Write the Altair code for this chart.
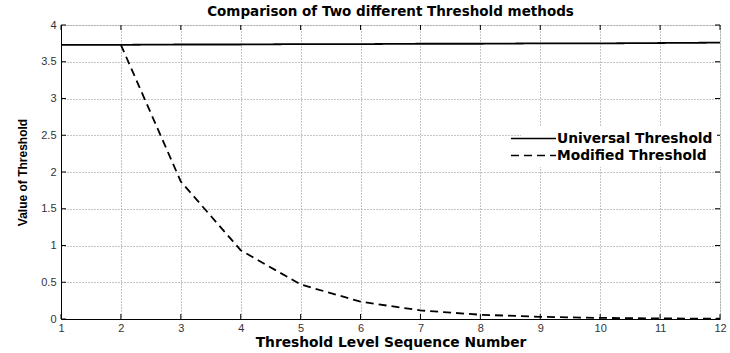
import altair as alt
import pandas as pd

levels = list(range(1, 13))
universal = [3.73, 3.73, 3.735, 3.735, 3.74, 3.74, 3.745, 3.745, 3.75, 3.75, 3.755, 3.76]
mod_levels = list(range(2, 13))
modified = [3.73, 1.87, 0.935, 0.47, 0.235, 0.117, 0.058, 0.03, 0.015, 0.008, 0.004]
series_names = ["Universal Threshold", "Modified Threshold"]
x_ticks = list(range(1, 13))
y_ticks = [0, 0.5, 1, 1.5, 2, 2.5, 3, 3.5, 4]

rows = [{"level": l, "value": v, "series": series_names[0]} for l, v in zip(levels, universal)]
rows += [{"level": l, "value": v, "series": series_names[1]} for l, v in zip(mod_levels, modified)]
df = pd.DataFrame(rows)

W, H = 659, 294
FONT = "Liberation Sans"
BFONT = "DejaVu Sans"

xscale = alt.Scale(domain=[1, 12], nice=False, zero=False)
yscale = alt.Scale(domain=[0, 4], nice=False)

xaxis = alt.Axis(values=x_ticks, title="Threshold Level Sequence Number", grid=True, format="d",
                 gridDash=[1, 2], gridColor="#8a8a8a", ticks=False, labelPadding=3,
                 labelFontSize=11, labelColor="#333", labelFont=FONT, labelOverlap=False,
                 titleFont=BFONT, titleFontSize=13.8, titleFontWeight="bold", titleColor="black",
                 titlePadding=2, domainColor="black", labelFlush=False)
yaxis = alt.Axis(values=y_ticks, title="Value of Threshold", grid=True, format="~g",
                 gridDash=[1, 2], gridColor="#8a8a8a", ticks=False, labelPadding=5,
                 labelFontSize=11, labelColor="#333", labelFont=FONT, labelOverlap=False,
                 titleFont=FONT, titleFontSize=12, titleFontWeight="bold", titleColor="black",
                 titlePadding=11, domainColor="black", labelFlush=False)

lines = alt.Chart(df).mark_line(color="black", strokeWidth=1.8).encode(
    x=alt.X("level:Q", scale=xscale, axis=xaxis),
    y=alt.Y("value:Q", scale=yscale, axis=yaxis),
    strokeDash=alt.StrokeDash("series:N",
        scale=alt.Scale(domain=series_names, range=[[1, 0], [8, 5]]),
        legend=alt.Legend(title=None, orient="none", legendX=460, legendY=101,
                          fillColor="white", padding=4, symbolType="M-3,0H3",
                          symbolSize=225, symbolStrokeWidth=1.5, symbolStrokeColor="black",
                          labelFont=BFONT, labelFontSize=13.8, labelFontWeight="bold",
                          labelColor="black", rowPadding=1, labelOffset=15)),
    detail="series:N",
)

xt = pd.DataFrame({"t": x_ticks})
yt = pd.DataFrame({"t": y_ticks})
tb = alt.Chart(xt).mark_rule(color="black").encode(
    x=alt.X("t:Q", scale=xscale, axis=xaxis), y=alt.value(H), y2=alt.value(H - 5))
tt = alt.Chart(xt).mark_rule(color="black").encode(
    x=alt.X("t:Q", scale=xscale, axis=xaxis), y=alt.value(0), y2=alt.value(5))
tl = alt.Chart(yt).mark_rule(color="black").encode(
    y=alt.Y("t:Q", scale=yscale, axis=yaxis), x=alt.value(0), x2=alt.value(5))
tr = alt.Chart(yt).mark_rule(color="black").encode(
    y=alt.Y("t:Q", scale=yscale, axis=yaxis), x=alt.value(W), x2=alt.value(W - 5))

chart = alt.layer(lines, tb, tt, tl, tr).properties(
    width=W, height=H,
    title=alt.TitleParams("Comparison of Two different Threshold methods", font=BFONT,
                          fontSize=13.5, fontWeight="bold", color="black", offset=1,
                          anchor="middle"),
    autosize=alt.AutoSizeParams(type="none"),
    padding={"left": 61, "top": 25, "right": 10, "bottom": 34},
).configure_view(stroke="black", strokeWidth=1).configure(background="white")

chart.save("out.html", embed_options={"renderer": "svg", "actions": False})
